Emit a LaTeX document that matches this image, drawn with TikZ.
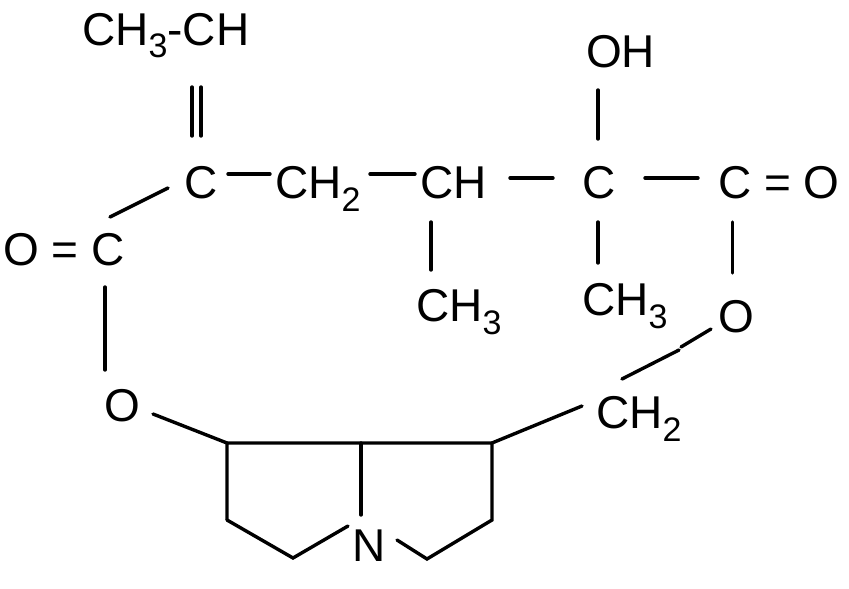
\documentclass[tikz,border=0pt]{standalone}
\usepackage{fontspec}
\setmainfont{Liberation Sans}
\usepackage{graphicx}
\usetikzlibrary{calc}
\newcommand{\lowidx}[1]{\raisebox{-13pt}{\fontsize{34}{34}\selectfont #1}}

\begin{document}
\begin{tikzpicture}[x=1pt, y=-1pt,
    lbl/.style={anchor=base west, inner sep=0pt, font=\fontsize{46}{50}\selectfont},
    bond/.style={line width=3.4pt, line cap=round, line join=miter}]
    \useasboundingbox (0,0) rectangle (849,589);

    % Define the vertices of the ring
    \coordinate (r1) at (227,443);
    \coordinate (r2) at (227,520);
    \coordinate (r3) at (293,558);
    \coordinate (r4) at (361,443);
    \coordinate (r5) at (492,443);
    \coordinate (r6) at (492,520);
    \coordinate (r7) at (427,559);
    \coordinate (kink) at (679,350);
    \coordinate (kinkB) at (681,347);

    % Labels
    \node[lbl] (top) at (82,45) {CH\lowidx{3}-CH};
    \node[lbl] (oh) at (586,67) {OH};
    \node[lbl] (cA) at (184,198) {C};
    \node[lbl] (chA) at (275,198) {CH\lowidx{2}};
    \node[lbl] (chB) at (420,198) {CH};
    \node[lbl] (cB) at (582,198) {C};
    \node[lbl] (cC) at (718,198) {C = O};
    \node[lbl] (cD) at (3,265) {O = C};
    \node[lbl] (meA) at (416,321) {CH\lowidx{3}};
    \node[lbl] (meB) at (582,315) {CH\lowidx{3}};
    \node[lbl] (oA) at (718,332) {O};
    \node[lbl] (oB) at (104,421) {O};
    \node[lbl] (chC) at (596,428) {CH\lowidx{2}};
    \node[lbl] (nA) at (352,561) {N};

    % Draw the chain
    \draw[bond] ($(top.base west)+(110,42)$) -- ($(cA.base west)+(8,-62)$);
    \draw[bond] ($(top.base west)+(119,42)$) -- ($(cA.base west)+(17,-62)$);
    \draw[bond] ($(cD.base west)+(107,-48)$) -- ($(cA.base west)+(-16,-10)$);
    \draw[bond] ($(cA.base west)+(44,-24)$) -- ($(chA.base west)+(-5,-24)$);
    \draw[bond] ($(chA.base west)+(95,-24)$) -- ($(chB.base west)+(-5,-24)$);
    \draw[bond] ($(chB.base west)+(90,-20)$) -- ($(cB.base west)+(-29,-20)$);
    \draw[bond] ($(cB.base west)+(63,-20)$) -- ($(cC.base west)+(-20,-20)$);
    \draw[bond] ($(oh.base west)+(12,23)$) -- ($(cB.base west)+(16,-59)$);
    \draw[bond] ($(cB.base west)+(16,24)$) -- ($(meB.base west)+(16,-52)$);
    \draw[bond] ($(chB.base west)+(11,24)$) -- ($(meA.base west)+(15,-51)$);
    \draw[bond] ($(cC.base west)+(14.5,24)$) -- ($(oA.base west)+(14.5,-59)$);
    \draw[bond] ($(cD.base west)+(102,22)$) -- ($(oB.base west)+(1,-51)$);

    % Draw the ring
    \draw[bond] ($(oB.base west)+(49,-7)$) -- (r1);
    \draw[bond] (r2) -- (r1) -- (r5) -- (r6) -- (r7) -- ($(nA.base west)+(45,-21)$);
    \draw[bond] (r2) -- (r3) -- ($(nA.base west)+(-4,-35)$);
    \draw[bond] (r4) -- ($(nA.base west)+(9,-46)$);

    % Bridge back to the ester oxygen
    \draw[bond] (r5) -- ($(chC.base west)+(-14,-22)$);
    \draw[bond] ($(chC.base west)+(26,-49)$) -- (kink);
    \draw[bond] (kinkB) -- ($(oA.base west)+(-7,-3)$);
\end{tikzpicture}
\end{document}
